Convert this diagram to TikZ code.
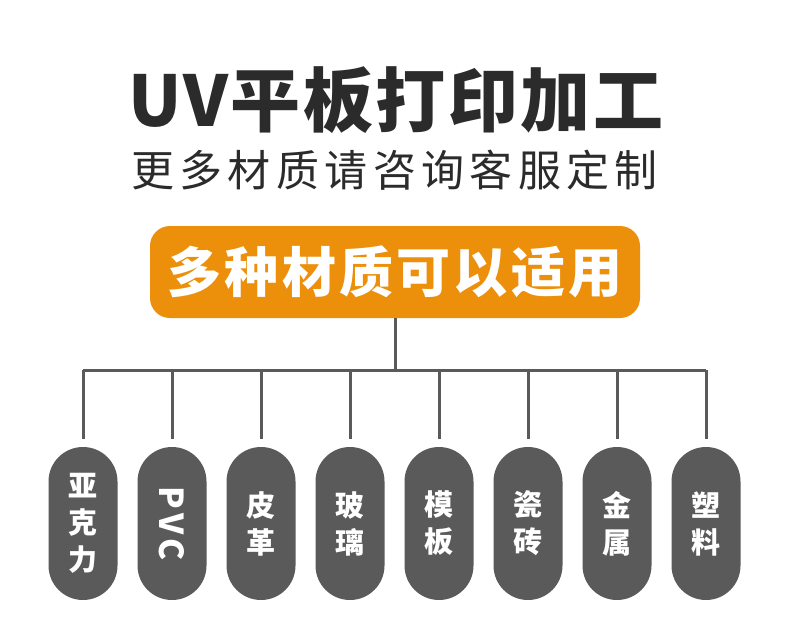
\documentclass[tikz,border=0pt]{standalone}
\usepackage{fontspec}
\newfontfamily\cjk{Noto Sans CJK SC}
\newfontfamily\cjktitle[LetterSpace=3.5]{Noto Sans CJK SC}
\newfontfamily\cjksub[LetterSpace=12.5]{Noto Sans CJK SC}
\newfontfamily\cjkmid[LetterSpace=6]{Noto Sans CJK SC}
\newfontfamily\cjkpvc[LetterSpace=12]{Noto Sans CJK SC}
\definecolor{orangebox}{HTML}{EC900C}
\definecolor{darktext}{HTML}{2B2B2B}
\definecolor{pillgray}{HTML}{5A5A5A}
\tikzset{
  pill/.style={fill=pillgray, draw=none, rounded corners=34.5pt, minimum width=69pt, minimum height=153pt, inner sep=0pt, text=white, align=center, font=\cjk\bfseries\fontsize{29}{37}\selectfont},
  link/.style={draw=pillgray, line width=3pt},
}
\begin{document}
\begin{tikzpicture}[x=1pt,y=-1pt]
\useasboundingbox[fill=white] (0,0) rectangle (790,635);
\node[anchor=west, inner sep=0pt, text=darktext, font=\cjktitle\bfseries\fontsize{70}{70}\selectfont] (title) at (128,100) {UV平板打印加工};
\node[anchor=west, inner sep=0pt, text=darktext, font=\cjksub\fontsize{43}{43}\selectfont] (sub) at (131,170) {更多材质请咨询客服定制};
\node[fill=orangebox, rounded corners=20pt, minimum width=490pt, minimum height=92pt, inner sep=0pt, text=white, font=\cjkmid\bfseries\fontsize{54}{54}\selectfont] (main) at (395,272) {多种材质可以适用};
\coordinate (hub) at (395,370);
\coordinate (barL) at (83,370);
\coordinate (barR) at (706,370);
\node[pill] (p1) at (83,523.5) {亚\\克\\力};
\node[pill, minimum width=153pt, minimum height=69pt, rotate=-90, font=\cjkpvc\bfseries\fontsize{33}{33}\selectfont] (p2) at (172,523.5) {PVC};
\node[pill] (p3) at (261,523.5) {皮\\革};
\node[pill] (p4) at (350,523.5) {玻\\璃};
\node[pill] (p5) at (439,523.5) {模\\板};
\node[pill] (p6) at (528,523.5) {瓷\\砖};
\node[pill] (p7) at (617,523.5) {金\\属};
\node[pill] (p8) at (706,523.5) {塑\\料};
\draw[link] (main.south) -- (hub);
\draw[link] (barL) -- (barR);
\foreach \i/\x in {1/83,2/172,3/261,4/350,5/439,6/528,7/617,8/706}{
  \draw[link] (\x,370) -- (\x,439);
}
\end{tikzpicture}
\end{document}
